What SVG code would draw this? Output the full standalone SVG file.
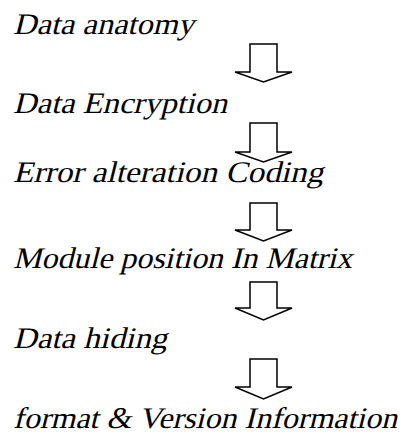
<svg xmlns="http://www.w3.org/2000/svg" width="404" height="435" viewBox="0 0 404 435">
<rect width="404" height="435" fill="#fff"/>
<g id="n1" transform="translate(13,34) skewX(-14)"><text font-family="Liberation Serif" font-size="30" x="0" y="0" textLength="181" lengthAdjust="spacingAndGlyphs">Data anatomy</text></g>
<g id="n2" transform="translate(13,113) skewX(-14)"><text font-family="Liberation Serif" font-size="30" x="0" y="0" textLength="214" lengthAdjust="spacingAndGlyphs">Data Encryption</text></g>
<g id="n3" transform="translate(13,182) skewX(-14)"><text font-family="Liberation Serif" font-size="30" x="0" y="0" textLength="310" lengthAdjust="spacingAndGlyphs">Error alteration Coding</text></g>
<g id="n4" transform="translate(13,268) skewX(-14)"><text font-family="Liberation Serif" font-size="30" x="0" y="0" textLength="339" lengthAdjust="spacingAndGlyphs">Module position In Matrix</text></g>
<g id="n5" transform="translate(13,348) skewX(-14)"><text font-family="Liberation Serif" font-size="30" x="0" y="0" textLength="154" lengthAdjust="spacingAndGlyphs">Data hiding</text></g>
<g id="n6" transform="translate(13,428) skewX(-14)"><text font-family="Liberation Serif" font-size="30" x="0" y="0" textLength="384" lengthAdjust="spacingAndGlyphs">format &amp; Version Information</text></g>
<g id="connectors" fill="#fff" stroke="#000" stroke-width="1.5">
<polygon points="250,44 277,44 277,72 292,72 263.5,82 235,72 250,72"/>
<polygon points="250,123 277,123 277,152 292,152 263.5,162 235,152 250,152"/>
<polygon points="250,203 277,203 277,230 292,230 263.5,241 235,230 250,230"/>
<polygon points="250,282 277,282 277,308 292,308 263.5,320 235,308 250,308"/>
<polygon points="250,359 277,359 277,387 292,387 263.5,399 235,387 250,387"/>
</g>
</svg>
